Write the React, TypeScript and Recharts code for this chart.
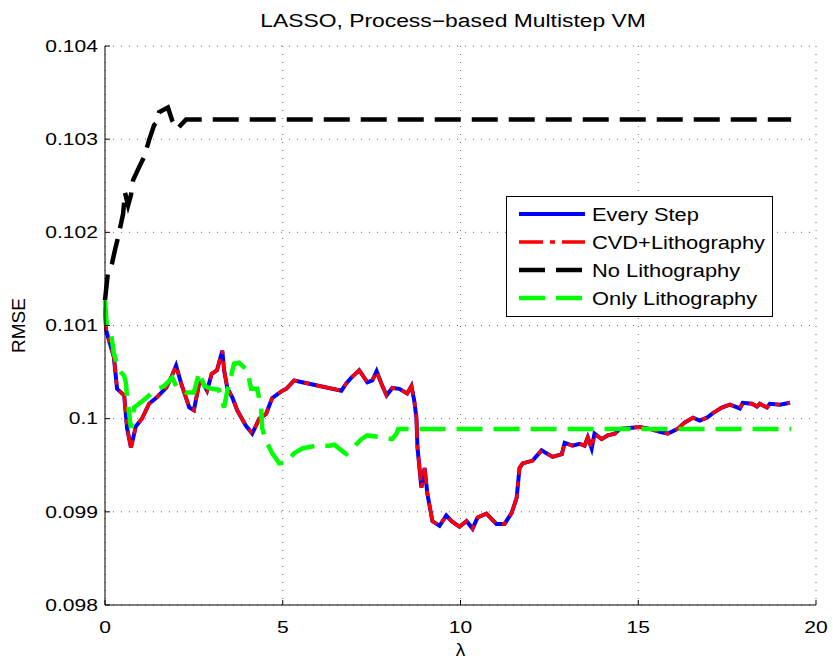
import React from 'react';
import { LineChart, Line, XAxis, YAxis, CartesianGrid, Legend, Label } from 'recharts';

// lambda / RMSE
const stepLambda = [
  0, 0.03, 0.25, 0.34, 0.54, 0.62, 0.73, 0.87, 1.04, 1.24, 1.46, 1.72, 1.86, 2.0, 2.14, 2.37, 2.5, 2.65, 2.73, 2.87,
  3.0, 3.15, 3.3, 3.35, 3.44, 3.58, 3.72, 3.97, 4.14, 4.34, 4.53, 4.7, 4.99, 5.1, 5.32, 6.65, 6.79, 6.93, 7.15, 7.38,
  7.52, 7.64, 7.77, 7.92, 8.08, 8.28, 8.5, 8.62, 8.7, 8.76, 8.79, 8.9, 8.99, 9.07, 9.21, 9.41, 9.6, 9.75, 9.97, 10.17,
  10.34, 10.48, 10.73, 11.01, 11.24, 11.44, 11.58, 11.66, 11.75, 12.03, 12.28, 12.59, 12.85, 12.93, 13.15, 13.35, 13.49, 13.58, 13.69, 13.77,
  13.97, 14.14, 14.34, 14.48, 14.76, 15.04, 15.32, 15.6, 15.83, 16.11, 16.31, 16.54, 16.73, 16.93, 17.1, 17.35, 17.58, 17.86, 17.94, 18.2,
  18.34, 18.42, 18.62, 18.7, 18.99, 19.27,
];
const stepRmse = [
  0.1012, 0.10095, 0.10066, 0.10032, 0.10025, 0.0999, 0.09969, 0.09992, 0.1, 0.10016, 0.10023, 0.10033, 0.10044, 0.10057, 0.10038, 0.10012, 0.10009, 0.10038, 0.1004, 0.1003,
  0.10048, 0.10052, 0.10073, 0.10052, 0.10033, 0.10023, 0.10009, 0.09992, 0.09984, 0.1, 0.10005, 0.10022, 0.1003, 0.10032, 0.10041, 0.1003, 0.10038, 0.10044, 0.10052, 0.10039,
  0.10041, 0.10051, 0.10038, 0.10025, 0.10033, 0.10032, 0.10027, 0.10035, 0.10019, 0.10001, 0.09969, 0.09926, 0.09947, 0.09919, 0.0989, 0.09885, 0.09896, 0.0989, 0.09884, 0.0989,
  0.09882, 0.09894, 0.09898, 0.09887, 0.09887, 0.09899, 0.09915, 0.09947, 0.09952, 0.09955, 0.09966, 0.09959, 0.09962, 0.09974, 0.09971, 0.09973, 0.09971, 0.0998, 0.09968, 0.09984,
  0.09978, 0.09982, 0.09984, 0.09989, 0.0999, 0.09991, 0.09989, 0.09986, 0.09984, 0.09989, 0.09996, 0.10001, 0.09998, 0.10001, 0.10006, 0.10012, 0.10015, 0.10011, 0.10017, 0.10016,
  0.10013, 0.10016, 0.10012, 0.10016, 0.10015, 0.10017,
];
// CVD+Lithography sits on top of Every Step
const cvdLambda = stepLambda;
const cvdRmse = stepRmse;

const noLithoLambda = [0, 0.08, 0.2, 0.28, 0.37, 0.51, 0.56, 0.65, 0.73, 0.79, 0.96, 1.1, 1.24, 1.38, 1.46, 1.52, 1.77, 1.89, 2.03, 2.28, 19.3];
const noLithoRmse = [0.10127, 0.10156, 0.10167, 0.10181, 0.10195, 0.1022, 0.10243, 0.10229, 0.1024, 0.10256, 0.1027, 0.10281, 0.10299, 0.10315, 0.10318, 0.10329, 0.10334, 0.1032, 0.10311, 0.10321, 0.10321];

const onlyLithoLambda = [
  0, 0.05, 0.17, 0.25, 0.39, 0.54, 0.59, 0.62, 0.73, 0.82, 1.15, 1.38, 1.66, 1.89, 2.03, 2.28, 2.5, 2.65, 2.79, 3.0,
  3.2, 3.35, 3.44, 3.55, 3.63, 3.77, 4.0, 4.11, 4.28, 4.39, 4.42, 4.53, 4.7, 4.9, 5.1, 5.32, 5.55, 5.94, 6.31, 6.45,
  6.65, 6.79, 7.01, 7.21, 7.38, 7.77, 8.08, 8.2, 8.25, 19.3,
];
const onlyLithoRmse = [
  0.10127, 0.101, 0.10091, 0.1007, 0.10052, 0.10046, 0.10038, 0.10023, 0.0999, 0.10012, 0.10022, 0.1003, 0.10035, 0.10044, 0.10033, 0.10028, 0.10028, 0.1005, 0.10035, 0.10032,
  0.10031, 0.10012, 0.1003, 0.10046, 0.10059, 0.1006, 0.10052, 0.10032, 0.10032, 0.10012, 0.0999, 0.09976, 0.09963, 0.09952, 0.09953, 0.09963, 0.09968, 0.09971, 0.09971, 0.09972,
  0.09966, 0.09962, 0.0997, 0.09978, 0.09982, 0.0998, 0.09978, 0.09984, 0.09989, 0.09989,
];

const xTicks = [0, 5, 10, 15, 20];
const yTicks = [0.098, 0.099, 0.1, 0.101, 0.102, 0.103, 0.104];

const zip = (xs: number[], ys: number[]) => xs.map((x, i) => ({ x, y: ys[i] }));

const FONT = '"Liberation Sans", Arial, Helvetica, sans-serif';
const CVD_DASH = '24 7 5 7';
const LINE_DASH = '26 11';

const legendItems = [
  { name: 'Every Step', color: '#0000ff', dash: undefined, width: 4 },
  { name: 'CVD+Lithography', color: '#ff0000', dash: CVD_DASH, width: 3.5 },
  { name: 'No Lithography', color: '#000000', dash: LINE_DASH, width: 4.5 },
  { name: 'Only Lithography', color: '#00ff00', dash: LINE_DASH, width: 4.5 },
];

const fmtY = (v: number) => String(parseFloat(v.toFixed(3)));

const YTick = ({ x, y, payload }: any) => (
  <text transform={`translate(${x},${y}) scale(1.24,1)`} textAnchor="end" dominantBaseline="central"
    fontSize={17} fontFamily={FONT} fill="#000">
    {fmtY(payload.value)}
  </text>
);

const XTick = ({ x, y, payload }: any) => (
  <text transform={`translate(${x},${y}) scale(1.24,1)`} textAnchor="middle" dominantBaseline="central"
    fontSize={17} fontFamily={FONT} fill="#000">
    {payload.value}
  </text>
);

const renderLegend = () => (
  <svg width={267} height={121}>
    <rect x={0.5} y={0.5} width={266} height={120} fill="#fff" stroke="#000" strokeWidth={1} />
    {legendItems.map((it, i) => {
      const cy = 18 + i * 28;
      return (
        <g key={it.name}>
          <line x1={13} x2={79} y1={cy} y2={cy} stroke={it.color} strokeWidth={it.width} strokeDasharray={it.dash} />
          <text transform={`translate(86,${cy}) scale(1.15,1)`} dominantBaseline="central" fontSize={19}
            fontFamily={FONT} fill="#000">
            {it.name}
          </text>
        </g>
      );
    })}
  </svg>
);

export default function App() {
  return (
    <div style={{ position: 'absolute', left: 0, top: 0, width: 833, height: 661, background: '#fff' }}>
      <div style={{
        position: 'absolute', left: 453, top: 11, transform: 'translateX(-50%) scaleX(1.27)',
        fontFamily: FONT, fontSize: 18, lineHeight: '20px', whiteSpace: 'nowrap', color: '#000', zIndex: 2,
      }}>
        LASSO, Process−based Multistep VM
      </div>
      <LineChart width={833} height={661} margin={{ top: 46, right: 17, bottom: 16, left: 0 }}>
        <CartesianGrid stroke="#666" strokeDasharray="1 7" />
        <XAxis dataKey="x" type="number" domain={[0, 20]} ticks={xTicks} height={40}
          stroke="#000" tickSize={-5} tickMargin={27} tick={(p: any) => <XTick {...p} />}>
          <Label content={({ viewBox }: any) => (
            <text x={viewBox.x + viewBox.width / 2} y={viewBox.y + 44} textAnchor="middle" dominantBaseline="central"
              fontSize={19} fontFamily={FONT} fill="#000">λ</text>
          )} />
        </XAxis>
        <XAxis xAxisId="top" orientation="top" type="number" domain={[0, 20]} ticks={xTicks} height={0}
          stroke="#000" tickSize={-5} tick={false} />
        <YAxis type="number" domain={[0.098, 0.104]} ticks={yTicks} width={105}
          stroke="#000" tickSize={-5} tickMargin={12} tick={(p: any) => <YTick {...p} />}>
          <Label content={({ viewBox }: any) => {
            const cy = viewBox.y + viewBox.height / 2;
            return (
              <text x={18} y={cy} transform={`rotate(-90 18 ${cy})`} textAnchor="middle" dominantBaseline="central"
                fontSize={19} fontFamily={FONT} fill="#000">RMSE</text>
            );
          }} />
        </YAxis>
        <YAxis yAxisId="right" orientation="right" type="number" domain={[0.098, 0.104]} ticks={yTicks} width={0}
          stroke="#000" tickSize={-5} tick={false} />
        <Legend layout="vertical" align="center" verticalAlign="middle" content={renderLegend}
          wrapperStyle={{ left: 506, top: 196, width: 267, height: 121 }} />
        <Line data={zip(stepLambda, stepRmse)} dataKey="y" name="Every Step" type="linear" stroke="#0000ff"
          strokeWidth={4} dot={false} isAnimationActive={false} />
        <Line data={zip(cvdLambda, cvdRmse)} dataKey="y" name="CVD+Lithography" type="linear" stroke="#ff0000"
          strokeWidth={3.5} strokeDasharray={CVD_DASH} dot={false} isAnimationActive={false} />
        <Line data={zip(noLithoLambda, noLithoRmse)} dataKey="y" name="No Lithography" type="linear" stroke="#000000"
          strokeWidth={4.5} strokeDasharray={LINE_DASH} dot={false} isAnimationActive={false} />
        <Line data={zip(onlyLithoLambda, onlyLithoRmse)} dataKey="y" name="Only Lithography" type="linear" stroke="#00ff00"
          strokeWidth={4.5} strokeDasharray={LINE_DASH} dot={false} isAnimationActive={false} />
      </LineChart>
    </div>
  );
}
